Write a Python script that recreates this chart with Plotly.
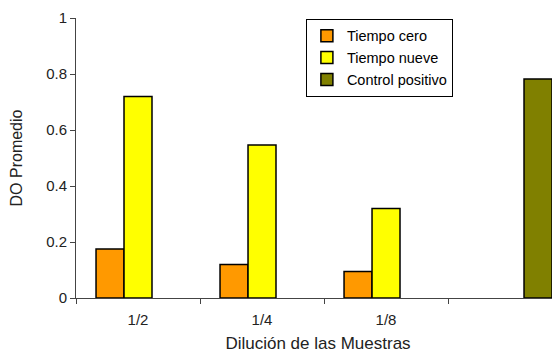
import plotly.graph_objects as go

categories = ["1/2", "1/4", "1/8", " "]
tiempo_cero = [0.175, 0.12, 0.095, None]
tiempo_nueve = [0.72, 0.546, 0.32, None]
control_positivo = [None, None, None, 0.782]

series = [
    ("Tiempo cero", tiempo_cero, "#FF9900"),
    ("Tiempo nueve", tiempo_nueve, "#FFFF00"),
    ("Control positivo", control_positivo, "#808000"),
]

fig = go.Figure()
for name, vals, color in series:
    fig.add_trace(go.Bar(
        x=categories, y=vals, name=name,
        marker=dict(color=color, line=dict(color="black", width=1.5)),
    ))

FAM = "Liberation Sans, Arial, sans-serif"
font = dict(family=FAM, size=15, color="#222")

# page body has an 8px default margin, so the figure is sized to fill the rest
fig.update_layout(
    width=552, height=345,
    margin=dict(l=68, r=0, t=10, b=55),
    paper_bgcolor="white", plot_bgcolor="white",
    barmode="group", bargap=0.323, bargroupgap=0,
    font=font,
    showlegend=True,
    legend=dict(
        x=0.475, y=0.997, xanchor="left", yanchor="top",
        bordercolor="black", borderwidth=1, bgcolor="white",
        font=dict(family=FAM, size=14.5, color="black"),
        tracegroupgap=0, itemwidth=30,
    ),
    xaxis=dict(
        type="category", categoryorder="array", categoryarray=categories,
        range=[-0.5, 3.403],
        tickson="boundaries", ticks="outside", ticklen=5, tickcolor="#444",
        tickfont=dict(family=FAM, size=15, color="#222"),
        ticklabelstandoff=8,
        showline=True, linecolor="#444", linewidth=1,
        showgrid=False, zeroline=False, automargin=False,
        title=dict(text="Dilución de las Muestras", standoff=20,
                   font=dict(family=FAM, size=17, color="#222")),
    ),
    yaxis=dict(
        range=[0, 1], tickvals=[0, 0.2, 0.4, 0.6, 0.8, 1],
        ticktext=["0", "0.2", "0.4", "0.6", "0.8", "1"],
        ticks="outside", ticklen=5, tickcolor="#444",
        tickfont=dict(family=FAM, size=15, color="#222"),
        showline=True, linecolor="#444", linewidth=1,
        showgrid=False, zeroline=False, automargin=False,
        title=dict(text="DO Promedio", standoff=19,
                   font=dict(family=FAM, size=16, color="#222")),
    ),
)

fig.write_html("out.html")
